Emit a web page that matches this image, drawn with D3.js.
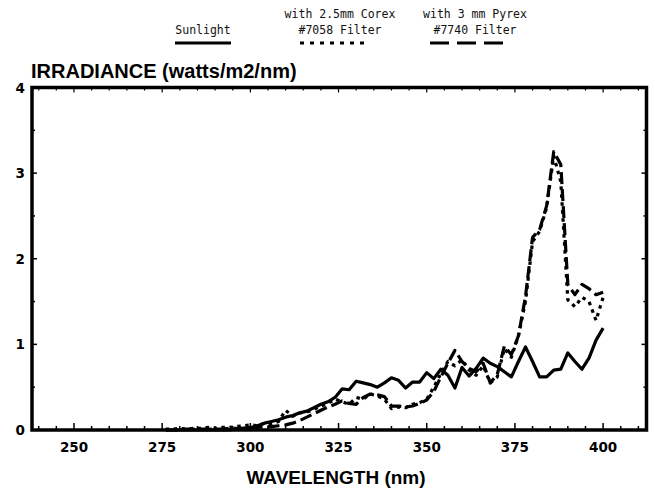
<!DOCTYPE html>
<html>
<head>
<meta charset="utf-8">
<script src="https://cdn.jsdelivr.net/npm/d3@7"></script>
<style>
  body { margin: 0; background: #fff; }
  .legend text { font-family: "DejaVu Sans Mono", "Liberation Mono", monospace; font-size: 11.5px; fill: #111; }
  .ticklabel { font-family: "DejaVu Sans", sans-serif; font-weight: bold; font-size: 13.5px; }
  .title { font-family: "Liberation Sans", Arial, sans-serif; font-weight: bold; font-size: 20px; }
</style>
</head>
<body>
<div class="chart"></div>
<script>
const WIDTH = 655;
const HEIGHT = 490;
const LEFT = 32, RIGHT = 646.5, TOP = 87.5, BOTTOM = 430;

// wavelength grid (nm)
const wavelengths = d3.range(276, 401, 2);

// irradiance, watts/m2/nm
const sunlight = [
  0, 0, 0, 0, 0, 0, 0, 0, 0, 0,
  0.01, 0.02, 0.03, 0.05, 0.08, 0.10, 0.12, 0.15, 0.17, 0.20,
  0.22, 0.26, 0.30, 0.33, 0.38, 0.48, 0.47, 0.57, 0.55, 0.53,
  0.50, 0.55, 0.61, 0.58, 0.49, 0.56, 0.56, 0.67, 0.60, 0.71,
  0.64, 0.49, 0.73, 0.63, 0.72, 0.84, 0.78, 0.74, 0.68, 0.62,
  0.80, 0.97, 0.80, 0.62, 0.62, 0.70, 0.71, 0.90, 0.80, 0.71,
  0.84, 1.05, 1.19
];
const corex = [
  0.01, 0.01, 0.02, 0.01, 0.02, 0.02, 0.03, 0.02, 0.03, 0.03,
  0.04, 0.05, 0.06, 0.05, 0.08, 0.07, 0.10, 0.23, 0.16, 0.20,
  0.21, 0.24, 0.28, 0.31, 0.36, 0.33, 0.30, 0.38, 0.36, 0.42,
  0.40, 0.36, 0.25, 0.27, 0.26, 0.30, 0.32, 0.36, 0.50, 0.66,
  0.80, 0.75, 0.82, 0.70, 0.64, 0.75, 0.55, 0.62, 0.95, 0.85,
  1.10, 1.50, 2.20, 2.32, 2.60, 3.20, 2.90, 1.52, 1.44, 1.55,
  1.50, 1.28, 1.55
];
const pyrex = [
  0, 0, 0, 0.01, 0.01, 0.01, 0.01, 0.01, 0.01, 0.02,
  0.02, 0.02, 0.02, 0.03, 0.04, 0.04, 0.05, 0.06, 0.08, 0.11,
  0.15, 0.19, 0.23, 0.27, 0.30, 0.34, 0.31, 0.30, 0.38, 0.42,
  0.41, 0.39, 0.28, 0.28, 0.27, 0.28, 0.31, 0.35, 0.45, 0.62,
  0.78, 0.93, 0.80, 0.72, 0.68, 0.78, 0.55, 0.65, 0.98, 0.88,
  1.10, 1.56, 2.25, 2.34, 2.62, 3.25, 3.10, 1.70, 1.58, 1.70,
  1.65, 1.58, 1.61
];

const xTickValues = [250, 275, 300, 325, 350, 375, 400];
const yTickValues = [0, 1, 2, 3, 4];

var svg = d3.select('.chart').append('svg')
  .attr('width', WIDTH)
  .attr('height', HEIGHT);

var x = d3.scaleLinear().domain([238.1, 412.3]).range([LEFT, RIGHT]);
var y = d3.scaleLinear().domain([0, 4]).range([BOTTOM, TOP]);

// minor ticks along bottom and top
var minorX = d3.range(240, 412, 5);
svg.selectAll('.xtick').data(minorX).enter().append('line')
  .attr('x1', d => x(d)).attr('x2', d => x(d))
  .attr('y1', BOTTOM).attr('y2', d => BOTTOM - (d % 25 === 0 ? 7 : 4))
  .attr('stroke', '#000').attr('stroke-width', 1.5);
svg.selectAll('.xtickTop').data(minorX).enter().append('line')
  .attr('x1', d => x(d)).attr('x2', d => x(d))
  .attr('y1', TOP).attr('y2', d => TOP + (d % 25 === 0 ? 5 : 3))
  .attr('stroke', '#000').attr('stroke-width', 1.2);

var minorY = d3.range(0.5, 4, 0.5);
svg.selectAll('.ytick').data(minorY).enter().append('line')
  .attr('x1', LEFT).attr('x2', d => LEFT + (d % 1 === 0 ? 5 : 3))
  .attr('y1', d => y(d)).attr('y2', d => y(d))
  .attr('stroke', '#000').attr('stroke-width', 1.5);
svg.selectAll('.ytickR').data(minorY).enter().append('line')
  .attr('x1', RIGHT).attr('x2', d => RIGHT - (d % 1 === 0 ? 5 : 3))
  .attr('y1', d => y(d)).attr('y2', d => y(d))
  .attr('stroke', '#000').attr('stroke-width', 1.5);

// frame
svg.append('rect')
  .attr('x', LEFT).attr('y', TOP)
  .attr('width', RIGHT - LEFT).attr('height', BOTTOM - TOP)
  .attr('fill', 'none').attr('stroke', '#000').attr('stroke-width', 3.5);

// tick labels
svg.selectAll('.xlabel').data(xTickValues).enter().append('text')
  .attr('class', 'ticklabel')
  .attr('x', d => x(d)).attr('y', 452)
  .attr('text-anchor', 'middle')
  .text(d => d);
svg.selectAll('.ylabel').data(yTickValues).enter().append('text')
  .attr('class', 'ticklabel')
  .attr('x', 25).attr('y', d => y(d) + 5)
  .attr('text-anchor', 'end')
  .text(d => d);

// titles
svg.append('text').attr('class', 'title')
  .attr('x', 31).attr('y', 78)
  .text('IRRADIANCE (watts/m2/nm)');
svg.append('text').attr('class', 'title')
  .attr('x', 336).attr('y', 484)
  .attr('text-anchor', 'middle')
  .style('font-size', '19px')
  .text('WAVELENGTH (nm)');

// series
var series = [
  { name: 'sunlight', values: sunlight, dash: null },
  { name: 'corex', values: corex, dash: '3.5,4.5' },
  { name: 'pyrex', values: pyrex, dash: '12,5' }
];

var line = d3.line()
  .x((d, i) => x(wavelengths[i]))
  .y(d => y(d));

series.forEach(function (s) {
  svg.append('path')
    .datum(s.values)
    .attr('d', line)
    .attr('fill', 'none')
    .attr('stroke', '#000')
    .attr('stroke-width', 3.2)
    .attr('stroke-linejoin', 'round')
    .attr('stroke-dasharray', s.dash);
});

// legend
var legend = svg.append('g').attr('class', 'legend');
var legendItems = [
  { lines: ['Sunlight'], cx: 203, x1: 175, x2: 231, dash: null },
  { lines: ['with 2.5mm Corex', '#7058 Filter'], cx: 340, x1: 300, x2: 364, dash: '4,6' },
  { lines: ['with 3 mm Pyrex', '#7740 Filter'], cx: 475, x1: 430, x2: 503, dash: '19,8' }
];
legendItems.forEach(function (item) {
  var n = item.lines.length;
  item.lines.forEach(function (t, i) {
    legend.append('text')
      .attr('x', item.cx)
      .attr('y', 34 - (n - 1 - i) * 16)
      .attr('text-anchor', 'middle')
      .text(t);
  });
  legend.append('line')
    .attr('x1', item.x1).attr('x2', item.x2)
    .attr('y1', 43).attr('y2', 43)
    .attr('stroke', '#000').attr('stroke-width', 3)
    .attr('stroke-dasharray', item.dash);
});
</script>
</body>
</html>
